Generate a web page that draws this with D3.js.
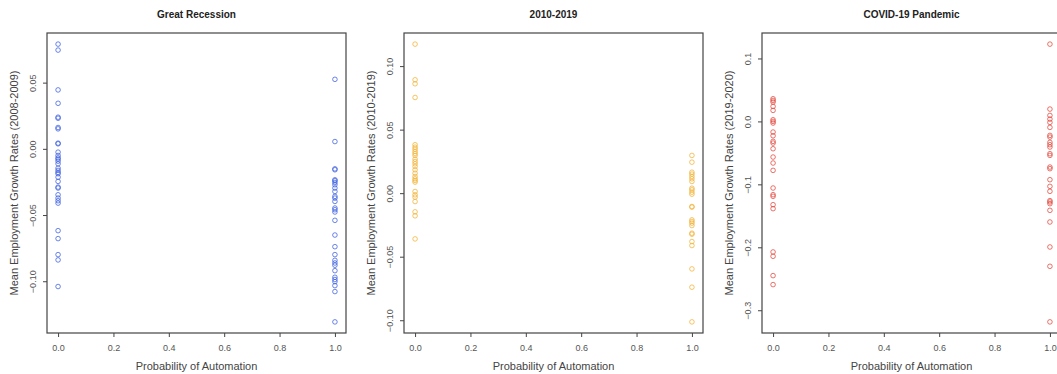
<!DOCTYPE html>
<html>
<head>
<meta charset="utf-8">
<script src="https://cdn.jsdelivr.net/npm/d3@7"></script>
<style>
  body { margin: 0; background: #fff; }
  svg { display: block; font-family: "Liberation Sans", Arial, Helvetica, sans-serif; }
</style>
</head>
<body>
<svg id="chart" width="1057" height="374"></svg>
<script>
// ---- Data ----
const panelTitles = ["Great Recession", "2010-2019", "COVID-19 Pandemic"];
const yAxisTitles = [
  "Mean Employment Growth Rates (2008-2009)",
  "Mean Employment Growth Rates (2010-2019)",
  "Mean Employment Growth Rates (2019-2020)"
];
const xAxisTitle = "Probability of Automation";
const xTicks = [0, 0.2, 0.4, 0.6, 0.8, 1.0];
const yTicksGR = [-0.10, -0.05, 0.00, 0.05];
const yTicks1019 = [-0.10, -0.05, 0.00, 0.05, 0.10];
const yTicksCovid = [-0.3, -0.2, -0.1, 0.0, 0.1];
const colors = ["#3c5ee0", "#f2b134", "#e2473c"];

// Great Recession (2008-2009): growth at probability 0 and 1
const grAt0 = [0.0791, 0.0746, 0.0445, 0.0344, 0.0239, 0.0231, 0.0161, 0.0151, 0.0043, 0.0038,
  -0.0025, -0.0050, -0.0068, -0.0078, -0.0093, -0.0113, -0.0146, -0.0163, -0.0178, -0.0188,
  -0.0214, -0.0246, -0.0289, -0.0296, -0.0347, -0.0372, -0.0392, -0.0410, -0.0618, -0.0678,
  -0.0799, -0.0839, -0.1040];
const grAt1 = [0.0525, 0.0055, -0.0151, -0.0158, -0.0234, -0.0241, -0.0254, -0.0271, -0.0296,
  -0.0322, -0.0359, -0.0372, -0.0397, -0.0447, -0.0460, -0.0477, -0.0540, -0.0651, -0.0739,
  -0.0799, -0.0842, -0.0862, -0.0879, -0.0920, -0.0970, -0.0987, -0.1003, -0.1033, -0.1078, -0.1307];

// 2010-2019
const decAt0 = [0.1173, 0.0892, 0.0861, 0.0753, 0.0381, 0.0362, 0.0346, 0.0328, 0.0312, 0.0297,
  0.0268, 0.0249, 0.0231, 0.0210, 0.0184, 0.0157, 0.0131, 0.0113, 0.0100, 0.0087, 0.0013,
  -0.0013, -0.0031, -0.0066, -0.0147, -0.0178, -0.0360];
const decAt1 = [0.0297, 0.0244, 0.0165, 0.0150, 0.0131, 0.0113, 0.0092, 0.0039, 0.0026, 0.0008,
  -0.0008, -0.0105, -0.0110, -0.0210, -0.0223, -0.0236, -0.0255, -0.0315, -0.0323, -0.0381,
  -0.0412, -0.0596, -0.0740, -0.1013];

// COVID-19 (2019-2020)
const covAt0 = [0.0360, 0.0333, 0.0307, 0.0238, 0.0175, 0.0026, 0.0000, -0.0026, -0.0169, -0.0228,
  -0.0317, -0.0344, -0.0434, -0.0566, -0.0661, -0.0778, -0.1058, -0.1164, -0.1190, -0.1323,
  -0.1386, -0.2074, -0.2143, -0.2450, -0.2593];
const covAt1 = [0.1228, 0.0196, 0.0095, 0.0037, -0.0016, -0.0095, -0.0222, -0.0249, -0.0333,
  -0.0370, -0.0407, -0.0513, -0.0540, -0.0725, -0.0751, -0.0926, -0.1032, -0.1111, -0.1259,
  -0.1280, -0.1307, -0.1413, -0.1598, -0.1995, -0.2302, -0.3185];

const panels = [
  { at0: grAt0, at1: grAt1, yTicks: yTicksGR, fmt: d3.format(".2f") },
  { at0: decAt0, at1: decAt1, yTicks: yTicks1019, fmt: d3.format(".2f") },
  { at0: covAt0, at1: covAt1, yTicks: yTicksCovid, fmt: d3.format(".1f") }
];

// ---- Layout ----
const svg = d3.select("#chart");
const boxLefts = [47, 404, 762];
const boxW = 299, boxTop = 33, boxBottom = 333;
const tickLen = 4;

panels.forEach((p, i) => {
  const left = boxLefts[i];
  const pts = p.at0.map(v => ({ x: 0, y: v })).concat(p.at1.map(v => ({ x: 1, y: v })));
  const ext = d3.extent(pts, d => d.y);
  const pad = (ext[1] - ext[0]) * 0.04;
  const x = d3.scaleLinear().domain([-0.04, 1.04]).range([left, left + boxW]);
  const y = d3.scaleLinear().domain([ext[0] - pad, ext[1] + pad]).range([boxBottom, boxTop]);

  const g = svg.append("g");

  // points
  g.selectAll("circle").data(pts).join("circle")
    .attr("cx", d => x(d.x)).attr("cy", d => y(d.y)).attr("r", 2.3)
    .attr("fill", "none").attr("stroke", colors[i]).attr("stroke-width", 0.9)
    .attr("stroke-opacity", 0.85);

  // box
  g.append("rect").attr("x", left).attr("y", boxTop)
    .attr("width", boxW).attr("height", boxBottom - boxTop)
    .attr("fill", "none").attr("stroke", "#444").attr("stroke-width", 1.2);

  // x axis
  const xa = g.append("g").attr("transform", `translate(0,${boxBottom})`)
    .call(d3.axisBottom(x).tickValues(xTicks).tickFormat(d3.format(".1f"))
      .tickSize(tickLen).tickPadding(8));
  xa.select(".domain").remove();
  xa.selectAll("line").attr("stroke", "#444");
  xa.selectAll("text").attr("font-size", 9).attr("fill", "#555")
    .attr("font-family", "Liberation Sans, Arial, sans-serif");

  // y axis
  const ya = g.append("g").attr("transform", `translate(${left},0)`)
    .call(d3.axisLeft(y).tickValues(p.yTicks).tickFormat(p.fmt).tickSize(tickLen).tickPadding(0));
  ya.select(".domain").remove();
  ya.selectAll("line").attr("stroke", "#444");
  ya.selectAll("text")
    .attr("x", null).attr("dy", null)
    .attr("text-anchor", "middle")
    .attr("transform", d => `translate(${-14},${y(d) - y(d)}) rotate(-90)`)
    .attr("dominant-baseline", "central")
    .attr("font-size", 9).attr("fill", "#555")
    .attr("font-family", "Liberation Sans, Arial, sans-serif");

  // title
  g.append("text").attr("x", left + boxW / 2).attr("y", 18)
    .attr("text-anchor", "middle").attr("font-size", 10).attr("font-weight", "bold")
    .attr("fill", "#222").text(panelTitles[i]);

  // x axis title
  g.append("text").attr("x", left + boxW / 2).attr("y", 370)
    .attr("text-anchor", "middle").attr("font-size", 11).attr("fill", "#444")
    .text(xAxisTitle);

  // y axis title
  g.append("text")
    .attr("transform", `translate(${left - 33},${(boxTop + boxBottom) / 2}) rotate(-90)`)
    .attr("text-anchor", "middle").attr("dominant-baseline", "central")
    .attr("font-size", 11).attr("fill", "#444")
    .text(yAxisTitles[i]);
});
</script>
</body>
</html>
